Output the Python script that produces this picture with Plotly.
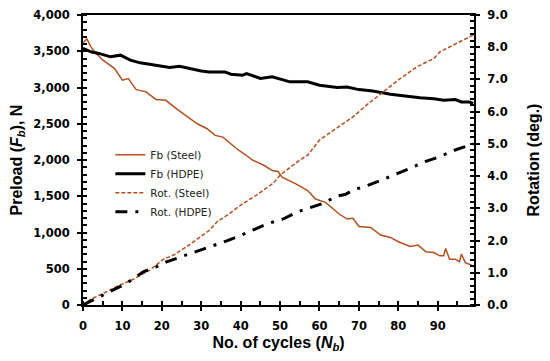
import plotly.graph_objects as go

# Preload, steel bolt
fb_steel_x = [0, 1, 2, 3, 5, 8, 10, 11.5, 13.5, 16, 18.5, 21, 24, 26, 29, 31.5, 33.5, 35.5, 39, 41.5,
              43, 46, 48, 49.5, 50.5, 54, 57, 59, 61.5, 63.5, 65, 67, 68.5, 70, 73, 75.5, 78, 80, 83, 85,
              87, 89, 90.5, 91.5, 92, 93, 94.5, 95.5, 96, 97, 99]
fb_steel_y = [3620, 3670, 3560, 3490, 3380, 3260, 3100, 3124, 2970, 2940, 2835, 2823, 2694, 2615, 2500, 2431,
              2339, 2316, 2155, 2062, 2000, 1924, 1855, 1841, 1762, 1670, 1578, 1462, 1416, 1324, 1255, 1186,
              1195, 1084, 1070, 965, 932, 872, 807, 826, 734, 724, 678, 678, 779, 632, 632, 595, 701, 585, 540]

# Preload, HDPE
fb_hdpe_x = [0, 2, 4, 7, 9.5, 12, 14.5, 17, 19.5, 22, 24.5, 27, 30, 32, 36, 37.5, 40.5, 41.5, 45, 48,
             52.5, 57, 60, 64.5, 67, 70, 73.5, 78, 82, 85.5, 89, 91.5, 94.5, 96, 98, 99]
fb_hdpe_y = [3540, 3492, 3470, 3423, 3446, 3377, 3340, 3322, 3294, 3276, 3294, 3262, 3229, 3215, 3215, 3183,
             3170, 3193, 3124, 3147, 3078, 3078, 3031, 3000, 3008, 2971, 2952, 2906, 2879, 2860, 2846, 2823,
             2833, 2800, 2800, 2780]

# Rotation, steel
rot_steel_x = [0, 2, 4.3, 8.5, 12.8, 17, 20.4, 23, 26.3, 29.7, 32.2, 34, 37.3, 40, 44, 48.3, 50, 55, 57, 60,
               65, 68.5, 72, 76, 80.5, 84.7, 89, 90.6, 94.8, 99]
rot_steel_y = [0, 0.18, 0.31, 0.57, 0.80, 1.09, 1.42, 1.55, 1.81, 2.10, 2.33, 2.58, 2.85, 3.1, 3.41, 3.78,
               4.03, 4.5, 4.65, 5.12, 5.53, 5.84, 6.21, 6.59, 7.03, 7.39, 7.65, 7.86, 8.12, 8.38]

# Rotation, HDPE
rot_hdpe_x = [0, 4, 7.7, 11, 15.3, 18.7, 21.2, 26.3, 29.7, 33, 36.5, 39.8, 43.2, 47, 50.8, 54.2, 57.6, 61,
              64.4, 66.5, 68.6, 72.4, 75.8, 79.6, 83, 86.8, 90.4, 94.4, 97.4, 99]
rot_hdpe_y = [0, 0.25, 0.47, 0.67, 1.03, 1.19, 1.34, 1.55, 1.69, 1.83, 1.99, 2.15, 2.33, 2.53, 2.67, 2.88,
              3.02, 3.16, 3.38, 3.43, 3.57, 3.72, 3.88, 4.06, 4.24, 4.45, 4.6, 4.81, 4.93, 5.0]

x_ticks = [0, 10, 20, 30, 40, 50, 60, 70, 80, 90]

BROWN = "#B4501E"
fig = go.Figure()
fig.add_trace(go.Scatter(x=fb_steel_x, y=fb_steel_y, mode="lines", name="Fb (Steel)",
                         line=dict(color=BROWN, width=1.5)))
fig.add_trace(go.Scatter(x=fb_hdpe_x, y=fb_hdpe_y, mode="lines", name="Fb (HDPE)",
                         line=dict(color="black", width=3)))
fig.add_trace(go.Scatter(x=rot_steel_x, y=rot_steel_y, mode="lines", name="Rot. (Steel)", yaxis="y2",
                         line=dict(color=BROWN, width=1.5, dash="4px,2px")))
fig.add_trace(go.Scatter(x=rot_hdpe_x, y=rot_hdpe_y, mode="lines", name="Rot. (HDPE)", yaxis="y2",
                         line=dict(color="black", width=3, dash="12px,8px,3px,8px")))

tickfont = dict(family="DejaVu Sans", size=11.5, color="black", weight="bold")
titlefont = dict(family="Liberation Sans", size=16, color="black", weight="bold")

fig.update_layout(
    width=550, height=361,
    margin=dict(l=75, r=84, t=7, b=64),
    paper_bgcolor="white", plot_bgcolor="white",
    showlegend=True,
    legend=dict(x=0.07, y=0.568, xanchor="left", yanchor="top", bgcolor="rgba(0,0,0,0)",
                font=dict(family="DejaVu Sans", size=10.5, color="#222"), tracegroupgap=0),
    xaxis=dict(range=[0, 99.2], tickvals=x_ticks, ticks="outside", ticklen=4, tickwidth=2,
               tickcolor="black", showline=True, linecolor="black", linewidth=2, mirror=True,
               showgrid=False, zeroline=False, tickfont=tickfont, automargin=False,
               ticklabelstandoff=5,
               minor=dict(dtick=5, ticks="inside", ticklen=4, tickwidth=1.5, tickcolor="black"),
               title=dict(text="No. of cycles (<i>N</i><sub><i>b</i></sub>)", font=titlefont, standoff=5)),
    yaxis=dict(range=[0, 4000], dtick=500, tickformat=",", ticks="outside", ticklen=4, tickwidth=2,
               tickcolor="black", showline=True, linecolor="black", linewidth=2,
               showgrid=False, zeroline=False, tickfont=tickfont, ticklabelstandoff=5, automargin=False,
               minor=dict(dtick=100, ticks="inside", ticklen=4, tickwidth=1.5, tickcolor="black"),
               title=dict(text="Preload (<i>F</i><sub><i>b</i></sub>), N", font=titlefont, standoff=16)),
    yaxis2=dict(range=[0, 9], dtick=1, tickformat=".1f", overlaying="y", side="right",
                ticks="outside", ticklen=4, tickwidth=2, tickcolor="black", showline=True,
                linecolor="black", linewidth=2, showgrid=False, zeroline=False, tickfont=tickfont,
                ticklabelstandoff=5, automargin=False,
                minor=dict(dtick=0.2, ticks="inside", ticklen=4, tickwidth=1.5, tickcolor="black"),
                title=dict(text="Rotation (deg.)", font=titlefont, standoff=21)),
)

fig.write_html("out.html")
